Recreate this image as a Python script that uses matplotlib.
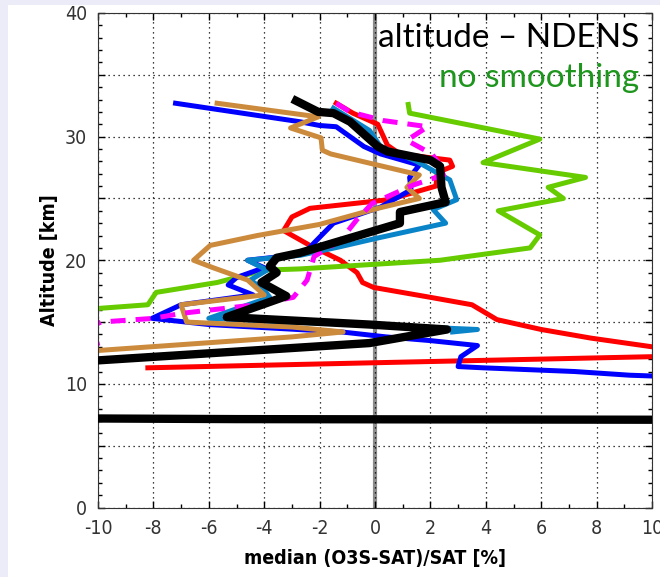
import matplotlib
matplotlib.use('Agg')
import matplotlib.pyplot as plt
from matplotlib.ticker import MultipleLocator, FuncFormatter
from matplotlib.patches import Rectangle

# ===== データ (横軸: 偏差 [%], 縦軸: 高度 [km]) =====
red_x = [-1.4, -0.8, 0.1, 0.45, 0.9, 2.7, 2.8, 2.25, 2.2, 0.5, -2.35, -3.0, -3.3,
         -2.35, -1.25, -0.65, -0.45, -0.05, 2.0, 3.5, 4.4, 6.0, 7.8, 10.0, 11.0,
         10.0, -0.2, -8.2]
red_y = [32.7, 31.9, 31.0, 29.3, 28.6, 28.1, 27.6, 27.1, 26.0, 24.9, 24.2, 23.5, 22.4,
         21.2, 20.0, 19.0, 18.2, 17.8, 17.0, 16.4, 15.2, 14.4, 13.7, 13.0, 12.6,
         12.2, 11.7, 11.3]

green_x = [1.2, 1.25, 5.95, 3.9, 7.6, 6.25, 6.8, 4.45, 5.95, 5.6, 2.35, -2.7, -4.0,
           -5.7, -7.9, -8.2, -10.0, -11.0]
green_y = [32.6, 31.9, 29.8, 27.9, 26.7, 25.9, 25.0, 24.0, 22.05, 21.0, 20.0, 19.3, 19.2,
           18.2, 17.4, 16.4, 16.1, 16.1]

blue_x = [-7.2, -2.7, -2.0, -1.4, -0.4, 0.2, 1.6, 1.25, 1.3, 0.2, -1.5, -2.2, -2.45,
          -3.0, -4.6, -4.0, -5.0, -5.3, -4.4, -7.0, -8.05, -6.0, -1.2, 0.4, 2.0, 3.7,
          3.1, 3.0, 3.9, 7.2, 9.2, 10.5]
blue_y = [32.7, 31.2, 30.9, 30.8, 29.2, 28.6, 27.7, 26.7, 25.7, 24.3, 23.0, 21.4, 20.8,
          20.4, 20.0, 19.4, 18.6, 18.0, 17.2, 16.4, 15.3, 14.8, 14.2, 13.8, 13.5, 13.1,
          12.2, 11.4, 11.3, 11.0, 10.7, 10.6]

ltblue_x = [-1.5, -0.2, 0.2, 1.5, 2.7, 2.95, 2.1, 2.55, 0.1, -1.25, -2.7, -4.6, -3.9,
            -4.5, -4.0, -3.8, -6.0, -3.0, 0.5, 3.7, 2.8]
ltblue_y = [32.3, 30.5, 29.2, 28.0, 26.5, 24.9, 24.1, 23.0, 21.8, 21.1, 20.4, 20.0, 19.2,
            18.4, 17.6, 17.0, 15.3, 15.0, 14.7, 14.4, 14.2]

magenta_x = [-1.4, -0.9, 0.3, 1.9, 1.15, 2.05, 2.6, 1.4, 0.3, -0.1, -0.65, -1.25, -2.2,
             -2.45, -2.95, -4.3, -7.0, -8.0, -9.9, -10.6, -9.8, -10.6]
magenta_y = [32.7, 32.0, 31.3, 30.8, 29.7, 28.6, 27.0, 26.1, 25.0, 24.6, 23.3, 21.6, 20.3,
             18.4, 17.0, 16.4, 15.7, 15.3, 15.0, 14.2, 13.4, 12.9]

tan_x = [-5.7, -2.05, -3.05, -1.95, -1.9, -1.6, 1.6, 1.15, 1.6, 0.1, -2.0, -4.25, -5.95,
         -6.55, -5.85, -4.6, -4.0, -7.0, -6.8, -3.0, -1.15, -3.0, -10.0, -11.0]
tan_y = [32.7, 31.6, 30.7, 29.9, 28.9, 28.6, 26.9, 25.9, 25.0, 24.2, 22.9, 22.0, 21.2,
         20.0, 19.4, 18.4, 17.2, 16.4, 15.0, 14.6, 14.2, 13.8, 12.7, 12.5]

black_x = [-2.85, -2.05, -1.5, -0.9, -0.3, 0.1, 0.45, 2.0, 2.35, 2.4, 2.55, 0.9, 0.9,
           -2.7, -3.55, -3.8, -3.55, -4.1, -3.2, -5.35, -0.2, 2.6, -0.2, -10.0, -11.0]
black_y = [32.9, 32.0, 31.9, 31.2, 30.0, 29.2, 28.8, 28.1, 27.6, 25.9, 24.7, 23.9, 23.0,
           20.6, 20.2, 19.5, 19.0, 18.2, 17.1, 15.4, 14.8, 14.4, 13.3, 11.9, 11.7]

black_low_x = [-10.0, -5.0, 10.0]
black_low_y = [7.2, 7.15, 7.1]

plt.rcParams['axes.unicode_minus'] = False
narrow = dict(family='DejaVu Sans', stretch='condensed')

# ===== 図 =====
fig = plt.figure(figsize=(6.6, 5.77), dpi=100, facecolor='white')
# 左端と上端の薄紫の帯
fig.patches.append(Rectangle((0, 0), 8 / 660, 1, transform=fig.transFigure,
                             facecolor='#ECECF9', edgecolor='none'))
fig.patches.append(Rectangle((0, 1 - 5 / 577), 1, 5 / 577, transform=fig.transFigure,
                             facecolor='#ECECF9', edgecolor='none'))
ax = fig.add_axes([98 / 660, 1 - 507.5 / 577, 554 / 660, 494.5 / 577])

ax.axvline(0, color='#8C8C8C', lw=3, zorder=1.5)
ax.plot(red_x, red_y, color='#FF0000', lw=3.6, zorder=2)
ax.plot(green_x, green_y, color='#66CC00', lw=3.6, zorder=2.1)
ax.plot(blue_x, blue_y, color='#0000FF', lw=3.6, zorder=2.2)
ax.plot(ltblue_x, ltblue_y, color='#0A84C8', lw=3.6, zorder=2.3)
ax.plot(tan_x, tan_y, color='#CC8B3C', lw=3.6, zorder=2.4)
ax.plot(magenta_x, magenta_y, color='#FF00FF', lw=3.6, dashes=(3, 2), zorder=2.5)
ax.plot(black_x, black_y, color='black', lw=6, zorder=3)
ax.plot(black_low_x, black_low_y, color='black', lw=6, zorder=3)

ax.set_xlim(-10, 10)
ax.set_ylim(0, 40)
ax.xaxis.set_major_locator(MultipleLocator(2))
ax.xaxis.set_minor_locator(MultipleLocator(1))
ax.yaxis.set_major_locator(MultipleLocator(5))
ax.yaxis.set_minor_locator(MultipleLocator(1))
ax.yaxis.set_major_formatter(FuncFormatter(lambda v, p: '%d' % v if v % 10 == 0 else ''))
ax.grid(True, which='major', color='black', lw=0.9, linestyle=(0, (1, 3)))
ax.tick_params(which='both', direction='in', top=True, right=True, width=1,
               labelsize=14, labelcolor='#333333', pad=8)
ax.tick_params(which='major', length=5)
ax.tick_params(which='minor', length=3)
for lab in ax.get_xticklabels() + ax.get_yticklabels():
    lab.set_family(narrow['family'])
    lab.set_stretch(narrow['stretch'])
for s in ax.spines.values():
    s.set_color('#333333')

ax.set_xlabel('median (O3S-SAT)/SAT [%]', fontweight='bold', fontsize=14,
              labelpad=8, **narrow)
ax.set_ylabel('Altitude [km]', fontweight='bold', fontsize=14, labelpad=4, **narrow)

fig.text(639 / 660, 1 - 38 / 577, 'altitude \u2013 NDENS', ha='right', va='center',
         fontsize=24, family=['Lato', 'DejaVu Sans'], color='black', zorder=5)
fig.text(639 / 660, 1 - 78 / 577, 'no smoothing', ha='right', va='center',
         fontsize=24, family=['Lato', 'DejaVu Sans'], color='#1E961E', zorder=5)

plt.savefig('out.png', dpi=100)
